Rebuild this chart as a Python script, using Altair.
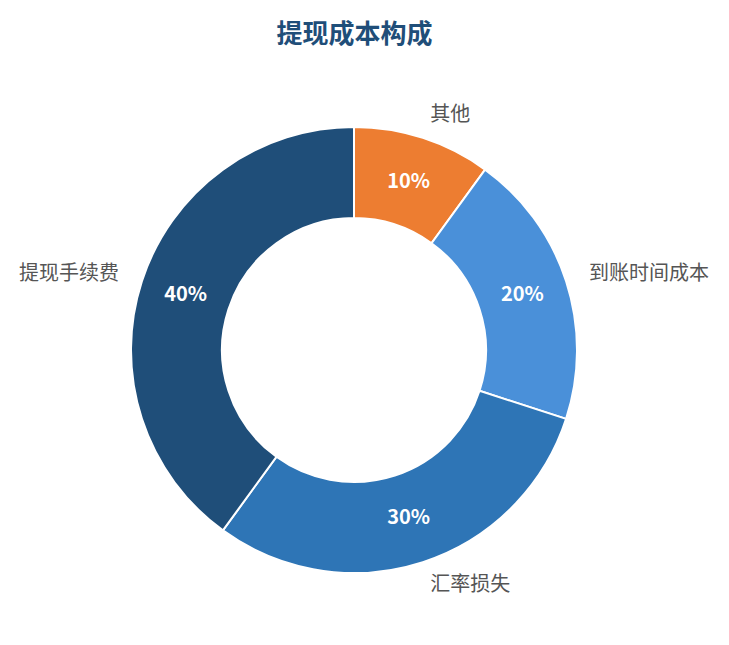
import altair as alt
import pandas as pd

categories = ["其他", "到账时间成本", "汇率损失", "提现手续费"]
values = [10, 20, 30, 40]
pct_labels = ["10%", "20%", "30%", "40%"]
colors = ["#ED7D31", "#4A90D9", "#2E75B6", "#1F4E79"]
side = ["right", "right", "right", "left"]

df = pd.DataFrame({
    "name": categories,
    "value": values,
    "pct": pct_labels,
    "order": list(range(len(categories))),
    "side": side,
})

CX, CY = 346, 274
FONT = "Noto Sans CJK SC"

base = alt.Chart(df).encode(
    theta=alt.Theta("value:Q", stack=True),
    order=alt.Order("order:Q", sort="ascending"),
    x=alt.value(CX),
    y=alt.value(CY),
)

arcs = base.mark_arc(innerRadius=132, outerRadius=223, stroke="white", strokeWidth=2).encode(
    color=alt.Color("name:N", scale=alt.Scale(domain=categories, range=colors), legend=None)
)

pct = base.mark_text(radius=177, font=FONT, fontSize=20, fontWeight="bold", color="white",
                     align="center", baseline="middle").encode(text="pct:N")

lab_r = base.transform_calculate(
    t="datum.side == 'right' ? datum.name : ''"
).mark_text(radius=247, font=FONT, fontSize=20, color="#555555", align="left",
            baseline="middle").encode(text="t:N")

lab_l = base.transform_calculate(
    t="datum.side == 'left' ? datum.name : ''"
).mark_text(radius=247, font=FONT, fontSize=20, color="#555555", align="right",
            baseline="middle").encode(text="t:N")

chart = alt.layer(arcs, pct, lab_r, lab_l).properties(
    width=713,
    height=570,
    title=alt.TitleParams("提现成本构成", font=FONT, fontSize=26, fontWeight="bold",
                          color="#1F4E79", anchor="middle", dx=-10, offset=28),
    autosize=alt.AutoSizeParams(type="none"),
    padding={"top": 68, "left": 0, "right": 0, "bottom": 0},
).configure_view(stroke=None)

chart.save("out.html", embed_options={"renderer": "svg", "actions": False})
